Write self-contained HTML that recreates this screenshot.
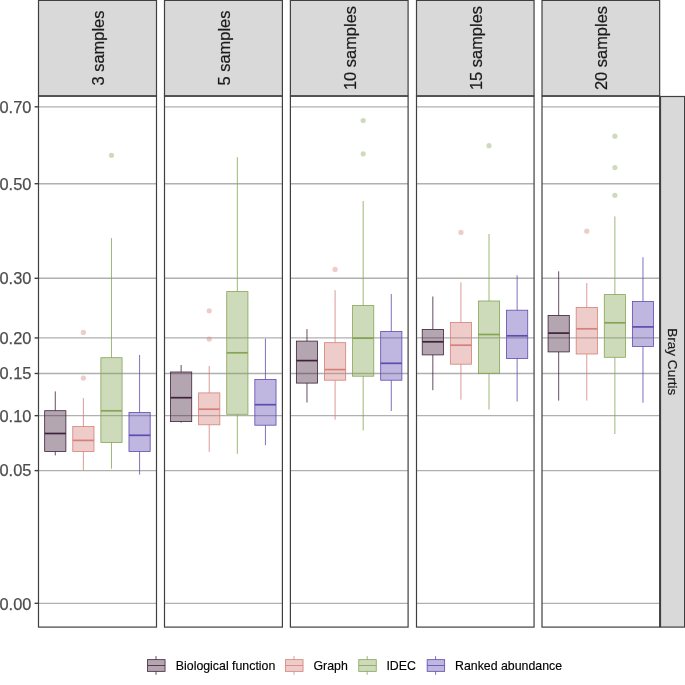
<!DOCTYPE html>
<html><head><meta charset="utf-8"><title>Bray Curtis boxplots</title>
<style>
html,body{margin:0;padding:0;background:#fff;}
body{width:685px;height:685px;overflow:hidden;font-family:"Liberation Sans",sans-serif;}
svg text{font-family:"Liberation Sans",sans-serif;}
svg{will-change:transform;opacity:0.999;}
</style></head><body>
<svg width="685" height="685" viewBox="0 0 685 685" style="display:block">
<rect x="0" y="0" width="685" height="685" fill="#fff"/>
<line x1="38.50" x2="156.50" y1="106.83" y2="106.83" stroke="#b0b0b0" stroke-width="1.35"/>
<line x1="38.50" x2="156.50" y1="183.70" y2="183.70" stroke="#b0b0b0" stroke-width="1.35"/>
<line x1="38.50" x2="156.50" y1="278.28" y2="278.28" stroke="#b0b0b0" stroke-width="1.35"/>
<line x1="38.50" x2="156.50" y1="337.92" y2="337.92" stroke="#b0b0b0" stroke-width="1.35"/>
<line x1="38.50" x2="156.50" y1="373.48" y2="373.48" stroke="#b0b0b0" stroke-width="1.35"/>
<line x1="38.50" x2="156.50" y1="415.65" y2="415.65" stroke="#b0b0b0" stroke-width="1.35"/>
<line x1="38.50" x2="156.50" y1="470.61" y2="470.61" stroke="#b0b0b0" stroke-width="1.35"/>
<line x1="38.50" x2="156.50" y1="603.30" y2="603.30" stroke="#b0b0b0" stroke-width="1.35"/>
<line x1="55.28" x2="55.28" y1="391.40" y2="410.70" stroke="#40203b" stroke-width="0.8"/>
<line x1="55.28" x2="55.28" y1="451.50" y2="455.40" stroke="#40203b" stroke-width="0.8"/>
<rect x="44.68" y="410.70" width="21.20" height="40.80" fill="#40203b" fill-opacity="0.4" stroke="#40203b" stroke-width="0.8"/>
<line x1="44.68" x2="65.88" y1="433.50" y2="433.50" stroke="#40203b" stroke-width="1.7"/>
<circle cx="83.38" cy="378.10" r="2.6" fill="#d5807a" fill-opacity="0.4"/>
<circle cx="83.38" cy="332.40" r="2.6" fill="#d5807a" fill-opacity="0.4"/>
<line x1="83.38" x2="83.38" y1="398.10" y2="426.50" stroke="#d5807a" stroke-width="0.8"/>
<line x1="83.38" x2="83.38" y1="451.50" y2="470.50" stroke="#d5807a" stroke-width="0.8"/>
<rect x="72.78" y="426.50" width="21.20" height="25.00" fill="#d5807a" fill-opacity="0.4" stroke="#d5807a" stroke-width="0.8"/>
<line x1="72.78" x2="93.98" y1="440.40" y2="440.40" stroke="#d5807a" stroke-width="1.7"/>
<circle cx="111.48" cy="155.30" r="2.6" fill="#85a555" fill-opacity="0.4"/>
<line x1="111.48" x2="111.48" y1="238.10" y2="357.70" stroke="#85a555" stroke-width="0.8"/>
<line x1="111.48" x2="111.48" y1="442.40" y2="468.70" stroke="#85a555" stroke-width="0.8"/>
<rect x="100.88" y="357.70" width="21.20" height="84.70" fill="#85a555" fill-opacity="0.4" stroke="#85a555" stroke-width="0.8"/>
<line x1="100.88" x2="122.08" y1="410.80" y2="410.80" stroke="#85a555" stroke-width="1.7"/>
<line x1="139.58" x2="139.58" y1="355.00" y2="412.50" stroke="#5e4baf" stroke-width="0.8"/>
<line x1="139.58" x2="139.58" y1="451.50" y2="474.60" stroke="#5e4baf" stroke-width="0.8"/>
<rect x="128.98" y="412.50" width="21.20" height="39.00" fill="#5e4baf" fill-opacity="0.4" stroke="#5e4baf" stroke-width="0.8"/>
<line x1="128.98" x2="150.18" y1="435.30" y2="435.30" stroke="#5e4baf" stroke-width="1.7"/>
<rect x="38.50" y="96.25" width="118.00" height="530.85" fill="none" stroke="#404040" stroke-width="1.2"/>
<rect x="38.50" y="0.4" width="118.00" height="95.35" fill="#d9d9d9" stroke="#404040" stroke-width="1.2"/>
<text transform="translate(104.03,48) rotate(-90)" text-anchor="middle" font-size="16.45" fill="#1a1a1a" stroke="#1a1a1a" stroke-width="0.2">3 samples</text>
<line x1="164.50" x2="282.40" y1="106.83" y2="106.83" stroke="#b0b0b0" stroke-width="1.35"/>
<line x1="164.50" x2="282.40" y1="183.70" y2="183.70" stroke="#b0b0b0" stroke-width="1.35"/>
<line x1="164.50" x2="282.40" y1="278.28" y2="278.28" stroke="#b0b0b0" stroke-width="1.35"/>
<line x1="164.50" x2="282.40" y1="337.92" y2="337.92" stroke="#b0b0b0" stroke-width="1.35"/>
<line x1="164.50" x2="282.40" y1="373.48" y2="373.48" stroke="#b0b0b0" stroke-width="1.35"/>
<line x1="164.50" x2="282.40" y1="415.65" y2="415.65" stroke="#b0b0b0" stroke-width="1.35"/>
<line x1="164.50" x2="282.40" y1="470.61" y2="470.61" stroke="#b0b0b0" stroke-width="1.35"/>
<line x1="164.50" x2="282.40" y1="603.30" y2="603.30" stroke="#b0b0b0" stroke-width="1.35"/>
<line x1="181.13" x2="181.13" y1="365.00" y2="372.00" stroke="#40203b" stroke-width="0.8"/>
<line x1="181.13" x2="181.13" y1="421.60" y2="422.60" stroke="#40203b" stroke-width="0.8"/>
<rect x="170.53" y="372.00" width="21.20" height="49.60" fill="#40203b" fill-opacity="0.4" stroke="#40203b" stroke-width="0.8"/>
<line x1="170.53" x2="191.73" y1="397.70" y2="397.70" stroke="#40203b" stroke-width="1.7"/>
<circle cx="209.23" cy="310.80" r="2.6" fill="#d5807a" fill-opacity="0.4"/>
<circle cx="209.23" cy="339.10" r="2.6" fill="#d5807a" fill-opacity="0.4"/>
<line x1="209.23" x2="209.23" y1="366.00" y2="392.90" stroke="#d5807a" stroke-width="0.8"/>
<line x1="209.23" x2="209.23" y1="424.80" y2="451.80" stroke="#d5807a" stroke-width="0.8"/>
<rect x="198.63" y="392.90" width="21.20" height="31.90" fill="#d5807a" fill-opacity="0.4" stroke="#d5807a" stroke-width="0.8"/>
<line x1="198.63" x2="219.83" y1="409.20" y2="409.20" stroke="#d5807a" stroke-width="1.7"/>
<line x1="237.33" x2="237.33" y1="157.20" y2="291.60" stroke="#85a555" stroke-width="0.8"/>
<line x1="237.33" x2="237.33" y1="414.30" y2="453.80" stroke="#85a555" stroke-width="0.8"/>
<rect x="226.73" y="291.60" width="21.20" height="122.70" fill="#85a555" fill-opacity="0.4" stroke="#85a555" stroke-width="0.8"/>
<line x1="226.73" x2="247.93" y1="352.80" y2="352.80" stroke="#85a555" stroke-width="1.7"/>
<line x1="265.43" x2="265.43" y1="338.70" y2="379.40" stroke="#5e4baf" stroke-width="0.8"/>
<line x1="265.43" x2="265.43" y1="425.20" y2="445.10" stroke="#5e4baf" stroke-width="0.8"/>
<rect x="254.83" y="379.40" width="21.20" height="45.80" fill="#5e4baf" fill-opacity="0.4" stroke="#5e4baf" stroke-width="0.8"/>
<line x1="254.83" x2="276.03" y1="404.70" y2="404.70" stroke="#5e4baf" stroke-width="1.7"/>
<rect x="164.50" y="96.25" width="117.90" height="530.85" fill="none" stroke="#404040" stroke-width="1.2"/>
<rect x="164.50" y="0.4" width="117.90" height="95.35" fill="#d9d9d9" stroke="#404040" stroke-width="1.2"/>
<text transform="translate(229.88,48) rotate(-90)" text-anchor="middle" font-size="16.45" fill="#1a1a1a" stroke="#1a1a1a" stroke-width="0.2">5 samples</text>
<line x1="290.40" x2="408.10" y1="106.83" y2="106.83" stroke="#b0b0b0" stroke-width="1.35"/>
<line x1="290.40" x2="408.10" y1="183.70" y2="183.70" stroke="#b0b0b0" stroke-width="1.35"/>
<line x1="290.40" x2="408.10" y1="278.28" y2="278.28" stroke="#b0b0b0" stroke-width="1.35"/>
<line x1="290.40" x2="408.10" y1="337.92" y2="337.92" stroke="#b0b0b0" stroke-width="1.35"/>
<line x1="290.40" x2="408.10" y1="373.48" y2="373.48" stroke="#b0b0b0" stroke-width="1.35"/>
<line x1="290.40" x2="408.10" y1="415.65" y2="415.65" stroke="#b0b0b0" stroke-width="1.35"/>
<line x1="290.40" x2="408.10" y1="470.61" y2="470.61" stroke="#b0b0b0" stroke-width="1.35"/>
<line x1="290.40" x2="408.10" y1="603.30" y2="603.30" stroke="#b0b0b0" stroke-width="1.35"/>
<line x1="306.98" x2="306.98" y1="329.10" y2="341.10" stroke="#40203b" stroke-width="0.8"/>
<line x1="306.98" x2="306.98" y1="383.10" y2="402.50" stroke="#40203b" stroke-width="0.8"/>
<rect x="296.38" y="341.10" width="21.20" height="42.00" fill="#40203b" fill-opacity="0.4" stroke="#40203b" stroke-width="0.8"/>
<line x1="296.38" x2="317.58" y1="360.60" y2="360.60" stroke="#40203b" stroke-width="1.7"/>
<circle cx="335.08" cy="269.40" r="2.6" fill="#d5807a" fill-opacity="0.4"/>
<line x1="335.08" x2="335.08" y1="290.20" y2="342.70" stroke="#d5807a" stroke-width="0.8"/>
<line x1="335.08" x2="335.08" y1="380.20" y2="419.70" stroke="#d5807a" stroke-width="0.8"/>
<rect x="324.48" y="342.70" width="21.20" height="37.50" fill="#d5807a" fill-opacity="0.4" stroke="#d5807a" stroke-width="0.8"/>
<line x1="324.48" x2="345.68" y1="369.60" y2="369.60" stroke="#d5807a" stroke-width="1.7"/>
<circle cx="363.18" cy="120.50" r="2.6" fill="#85a555" fill-opacity="0.4"/>
<circle cx="363.18" cy="153.80" r="2.6" fill="#85a555" fill-opacity="0.4"/>
<line x1="363.18" x2="363.18" y1="201.00" y2="305.60" stroke="#85a555" stroke-width="0.8"/>
<line x1="363.18" x2="363.18" y1="376.20" y2="430.50" stroke="#85a555" stroke-width="0.8"/>
<rect x="352.58" y="305.60" width="21.20" height="70.60" fill="#85a555" fill-opacity="0.4" stroke="#85a555" stroke-width="0.8"/>
<line x1="352.58" x2="373.78" y1="338.20" y2="338.20" stroke="#85a555" stroke-width="1.7"/>
<line x1="391.28" x2="391.28" y1="294.00" y2="331.50" stroke="#5e4baf" stroke-width="0.8"/>
<line x1="391.28" x2="391.28" y1="380.20" y2="411.00" stroke="#5e4baf" stroke-width="0.8"/>
<rect x="380.68" y="331.50" width="21.20" height="48.70" fill="#5e4baf" fill-opacity="0.4" stroke="#5e4baf" stroke-width="0.8"/>
<line x1="380.68" x2="401.88" y1="363.30" y2="363.30" stroke="#5e4baf" stroke-width="1.7"/>
<rect x="290.40" y="96.25" width="117.70" height="530.85" fill="none" stroke="#404040" stroke-width="1.2"/>
<rect x="290.40" y="0.4" width="117.70" height="95.35" fill="#d9d9d9" stroke="#404040" stroke-width="1.2"/>
<text transform="translate(355.73,48) rotate(-90)" text-anchor="middle" font-size="16.45" fill="#1a1a1a" stroke="#1a1a1a" stroke-width="0.2">10 samples</text>
<line x1="416.50" x2="534.05" y1="106.83" y2="106.83" stroke="#b0b0b0" stroke-width="1.35"/>
<line x1="416.50" x2="534.05" y1="183.70" y2="183.70" stroke="#b0b0b0" stroke-width="1.35"/>
<line x1="416.50" x2="534.05" y1="278.28" y2="278.28" stroke="#b0b0b0" stroke-width="1.35"/>
<line x1="416.50" x2="534.05" y1="337.92" y2="337.92" stroke="#b0b0b0" stroke-width="1.35"/>
<line x1="416.50" x2="534.05" y1="373.48" y2="373.48" stroke="#b0b0b0" stroke-width="1.35"/>
<line x1="416.50" x2="534.05" y1="415.65" y2="415.65" stroke="#b0b0b0" stroke-width="1.35"/>
<line x1="416.50" x2="534.05" y1="470.61" y2="470.61" stroke="#b0b0b0" stroke-width="1.35"/>
<line x1="416.50" x2="534.05" y1="603.30" y2="603.30" stroke="#b0b0b0" stroke-width="1.35"/>
<line x1="432.83" x2="432.83" y1="296.50" y2="329.40" stroke="#40203b" stroke-width="0.8"/>
<line x1="432.83" x2="432.83" y1="354.90" y2="390.20" stroke="#40203b" stroke-width="0.8"/>
<rect x="422.23" y="329.40" width="21.20" height="25.50" fill="#40203b" fill-opacity="0.4" stroke="#40203b" stroke-width="0.8"/>
<line x1="422.23" x2="443.43" y1="341.80" y2="341.80" stroke="#40203b" stroke-width="1.7"/>
<circle cx="460.93" cy="232.40" r="2.6" fill="#d5807a" fill-opacity="0.4"/>
<line x1="460.93" x2="460.93" y1="282.40" y2="322.40" stroke="#d5807a" stroke-width="0.8"/>
<line x1="460.93" x2="460.93" y1="364.20" y2="399.70" stroke="#d5807a" stroke-width="0.8"/>
<rect x="450.33" y="322.40" width="21.20" height="41.80" fill="#d5807a" fill-opacity="0.4" stroke="#d5807a" stroke-width="0.8"/>
<line x1="450.33" x2="471.53" y1="345.20" y2="345.20" stroke="#d5807a" stroke-width="1.7"/>
<circle cx="489.03" cy="145.70" r="2.6" fill="#85a555" fill-opacity="0.4"/>
<line x1="489.03" x2="489.03" y1="234.00" y2="301.00" stroke="#85a555" stroke-width="0.8"/>
<line x1="489.03" x2="489.03" y1="373.60" y2="409.60" stroke="#85a555" stroke-width="0.8"/>
<rect x="478.43" y="301.00" width="21.20" height="72.60" fill="#85a555" fill-opacity="0.4" stroke="#85a555" stroke-width="0.8"/>
<line x1="478.43" x2="499.63" y1="334.50" y2="334.50" stroke="#85a555" stroke-width="1.7"/>
<line x1="517.13" x2="517.13" y1="275.30" y2="310.20" stroke="#5e4baf" stroke-width="0.8"/>
<line x1="517.13" x2="517.13" y1="358.50" y2="401.50" stroke="#5e4baf" stroke-width="0.8"/>
<rect x="506.53" y="310.20" width="21.20" height="48.30" fill="#5e4baf" fill-opacity="0.4" stroke="#5e4baf" stroke-width="0.8"/>
<line x1="506.53" x2="527.73" y1="335.80" y2="335.80" stroke="#5e4baf" stroke-width="1.7"/>
<rect x="416.50" y="96.25" width="117.55" height="530.85" fill="none" stroke="#404040" stroke-width="1.2"/>
<rect x="416.50" y="0.4" width="117.55" height="95.35" fill="#d9d9d9" stroke="#404040" stroke-width="1.2"/>
<text transform="translate(481.58,48) rotate(-90)" text-anchor="middle" font-size="16.45" fill="#1a1a1a" stroke="#1a1a1a" stroke-width="0.2">15 samples</text>
<line x1="542.00" x2="659.65" y1="106.83" y2="106.83" stroke="#b0b0b0" stroke-width="1.35"/>
<line x1="542.00" x2="659.65" y1="183.70" y2="183.70" stroke="#b0b0b0" stroke-width="1.35"/>
<line x1="542.00" x2="659.65" y1="278.28" y2="278.28" stroke="#b0b0b0" stroke-width="1.35"/>
<line x1="542.00" x2="659.65" y1="337.92" y2="337.92" stroke="#b0b0b0" stroke-width="1.35"/>
<line x1="542.00" x2="659.65" y1="373.48" y2="373.48" stroke="#b0b0b0" stroke-width="1.35"/>
<line x1="542.00" x2="659.65" y1="415.65" y2="415.65" stroke="#b0b0b0" stroke-width="1.35"/>
<line x1="542.00" x2="659.65" y1="470.61" y2="470.61" stroke="#b0b0b0" stroke-width="1.35"/>
<line x1="542.00" x2="659.65" y1="603.30" y2="603.30" stroke="#b0b0b0" stroke-width="1.35"/>
<line x1="558.68" x2="558.68" y1="271.30" y2="315.40" stroke="#40203b" stroke-width="0.8"/>
<line x1="558.68" x2="558.68" y1="351.90" y2="400.60" stroke="#40203b" stroke-width="0.8"/>
<rect x="548.08" y="315.40" width="21.20" height="36.50" fill="#40203b" fill-opacity="0.4" stroke="#40203b" stroke-width="0.8"/>
<line x1="548.08" x2="569.28" y1="333.10" y2="333.10" stroke="#40203b" stroke-width="1.7"/>
<circle cx="586.78" cy="231.20" r="2.6" fill="#d5807a" fill-opacity="0.4"/>
<line x1="586.78" x2="586.78" y1="283.00" y2="307.50" stroke="#d5807a" stroke-width="0.8"/>
<line x1="586.78" x2="586.78" y1="354.00" y2="400.60" stroke="#d5807a" stroke-width="0.8"/>
<rect x="576.18" y="307.50" width="21.20" height="46.50" fill="#d5807a" fill-opacity="0.4" stroke="#d5807a" stroke-width="0.8"/>
<line x1="576.18" x2="597.38" y1="328.80" y2="328.80" stroke="#d5807a" stroke-width="1.7"/>
<circle cx="614.88" cy="136.20" r="2.6" fill="#85a555" fill-opacity="0.4"/>
<circle cx="614.88" cy="167.60" r="2.6" fill="#85a555" fill-opacity="0.4"/>
<circle cx="614.88" cy="195.30" r="2.6" fill="#85a555" fill-opacity="0.4"/>
<line x1="614.88" x2="614.88" y1="216.40" y2="294.60" stroke="#85a555" stroke-width="0.8"/>
<line x1="614.88" x2="614.88" y1="357.30" y2="434.00" stroke="#85a555" stroke-width="0.8"/>
<rect x="604.28" y="294.60" width="21.20" height="62.70" fill="#85a555" fill-opacity="0.4" stroke="#85a555" stroke-width="0.8"/>
<line x1="604.28" x2="625.48" y1="322.80" y2="322.80" stroke="#85a555" stroke-width="1.7"/>
<line x1="642.98" x2="642.98" y1="257.20" y2="301.50" stroke="#5e4baf" stroke-width="0.8"/>
<line x1="642.98" x2="642.98" y1="346.40" y2="402.70" stroke="#5e4baf" stroke-width="0.8"/>
<rect x="632.38" y="301.50" width="21.20" height="44.90" fill="#5e4baf" fill-opacity="0.4" stroke="#5e4baf" stroke-width="0.8"/>
<line x1="632.38" x2="653.58" y1="326.90" y2="326.90" stroke="#5e4baf" stroke-width="1.7"/>
<rect x="542.00" y="96.25" width="117.65" height="530.85" fill="none" stroke="#404040" stroke-width="1.2"/>
<rect x="542.00" y="0.4" width="117.65" height="95.35" fill="#d9d9d9" stroke="#404040" stroke-width="1.2"/>
<text transform="translate(607.43,48) rotate(-90)" text-anchor="middle" font-size="16.45" fill="#1a1a1a" stroke="#1a1a1a" stroke-width="0.2">20 samples</text>
<rect x="660.5" y="96.5" width="24.100000000000023" height="530.60" fill="#d9d9d9" stroke="#404040" stroke-width="1.2"/>
<text transform="translate(667.5,361.75) rotate(90)" text-anchor="middle" font-size="13.6" fill="#1a1a1a" stroke="#1a1a1a" stroke-width="0.2">Bray Curtis</text>
<line x1="34.6" x2="38.55" y1="106.83" y2="106.83" stroke="#404040" stroke-width="1.4"/>
<text x="31.4" y="112.68" text-anchor="end" font-size="16.4" fill="#4d4d4d" stroke="#4d4d4d" stroke-width="0.25">0.70</text>
<line x1="34.6" x2="38.55" y1="183.70" y2="183.70" stroke="#404040" stroke-width="1.4"/>
<text x="31.4" y="189.55" text-anchor="end" font-size="16.4" fill="#4d4d4d" stroke="#4d4d4d" stroke-width="0.25">0.50</text>
<line x1="34.6" x2="38.55" y1="278.28" y2="278.28" stroke="#404040" stroke-width="1.4"/>
<text x="31.4" y="284.13" text-anchor="end" font-size="16.4" fill="#4d4d4d" stroke="#4d4d4d" stroke-width="0.25">0.30</text>
<line x1="34.6" x2="38.55" y1="337.92" y2="337.92" stroke="#404040" stroke-width="1.4"/>
<text x="31.4" y="343.77" text-anchor="end" font-size="16.4" fill="#4d4d4d" stroke="#4d4d4d" stroke-width="0.25">0.20</text>
<line x1="34.6" x2="38.55" y1="373.48" y2="373.48" stroke="#404040" stroke-width="1.4"/>
<text x="31.4" y="379.33" text-anchor="end" font-size="16.4" fill="#4d4d4d" stroke="#4d4d4d" stroke-width="0.25">0.15</text>
<line x1="34.6" x2="38.55" y1="415.65" y2="415.65" stroke="#404040" stroke-width="1.4"/>
<text x="31.4" y="421.50" text-anchor="end" font-size="16.4" fill="#4d4d4d" stroke="#4d4d4d" stroke-width="0.25">0.10</text>
<line x1="34.6" x2="38.55" y1="470.61" y2="470.61" stroke="#404040" stroke-width="1.4"/>
<text x="31.4" y="476.46" text-anchor="end" font-size="16.4" fill="#4d4d4d" stroke="#4d4d4d" stroke-width="0.25">0.05</text>
<line x1="34.6" x2="38.55" y1="603.30" y2="603.30" stroke="#404040" stroke-width="1.4"/>
<text x="31.4" y="609.55" text-anchor="end" font-size="16.4" fill="#4d4d4d" stroke="#4d4d4d" stroke-width="0.25">0.00</text>
<line x1="156.0" x2="156.0" y1="656.1" y2="674.8" stroke="#40203b" stroke-width="0.8"/>
<rect x="147.55" y="659.65" width="17.5" height="11.7" fill="#fff" stroke="none"/>
<rect x="147.55" y="659.65" width="17.5" height="11.7" fill="#40203b" fill-opacity="0.4" stroke="#40203b" stroke-width="0.8"/>
<line x1="147.55" x2="165.05" y1="665.5" y2="665.5" stroke="#40203b" stroke-width="0.8"/>
<text x="175.8" y="669.8" font-size="12.35" fill="#000" stroke="#000" stroke-width="0.15">Biological function</text>
<line x1="294.0" x2="294.0" y1="656.1" y2="674.8" stroke="#d5807a" stroke-width="0.8"/>
<rect x="285.55" y="659.65" width="17.5" height="11.7" fill="#fff" stroke="none"/>
<rect x="285.55" y="659.65" width="17.5" height="11.7" fill="#d5807a" fill-opacity="0.4" stroke="#d5807a" stroke-width="0.8"/>
<line x1="285.55" x2="303.05" y1="665.5" y2="665.5" stroke="#d5807a" stroke-width="0.8"/>
<text x="313.5" y="669.8" font-size="12.35" fill="#000" stroke="#000" stroke-width="0.15">Graph</text>
<line x1="367.2" x2="367.2" y1="656.1" y2="674.8" stroke="#85a555" stroke-width="0.8"/>
<rect x="358.75" y="659.65" width="17.5" height="11.7" fill="#fff" stroke="none"/>
<rect x="358.75" y="659.65" width="17.5" height="11.7" fill="#85a555" fill-opacity="0.4" stroke="#85a555" stroke-width="0.8"/>
<line x1="358.75" x2="376.25" y1="665.5" y2="665.5" stroke="#85a555" stroke-width="0.8"/>
<text x="386.4" y="669.8" font-size="12.35" fill="#000" stroke="#000" stroke-width="0.15">IDEC</text>
<line x1="435.59999999999997" x2="435.59999999999997" y1="656.1" y2="674.8" stroke="#5e4baf" stroke-width="0.8"/>
<rect x="427.15" y="659.65" width="17.5" height="11.7" fill="#fff" stroke="none"/>
<rect x="427.15" y="659.65" width="17.5" height="11.7" fill="#5e4baf" fill-opacity="0.4" stroke="#5e4baf" stroke-width="0.8"/>
<line x1="427.15" x2="444.65" y1="665.5" y2="665.5" stroke="#5e4baf" stroke-width="0.8"/>
<text x="455.0" y="669.8" font-size="12.35" fill="#000" stroke="#000" stroke-width="0.15">Ranked abundance</text>
</svg>
</body></html>
